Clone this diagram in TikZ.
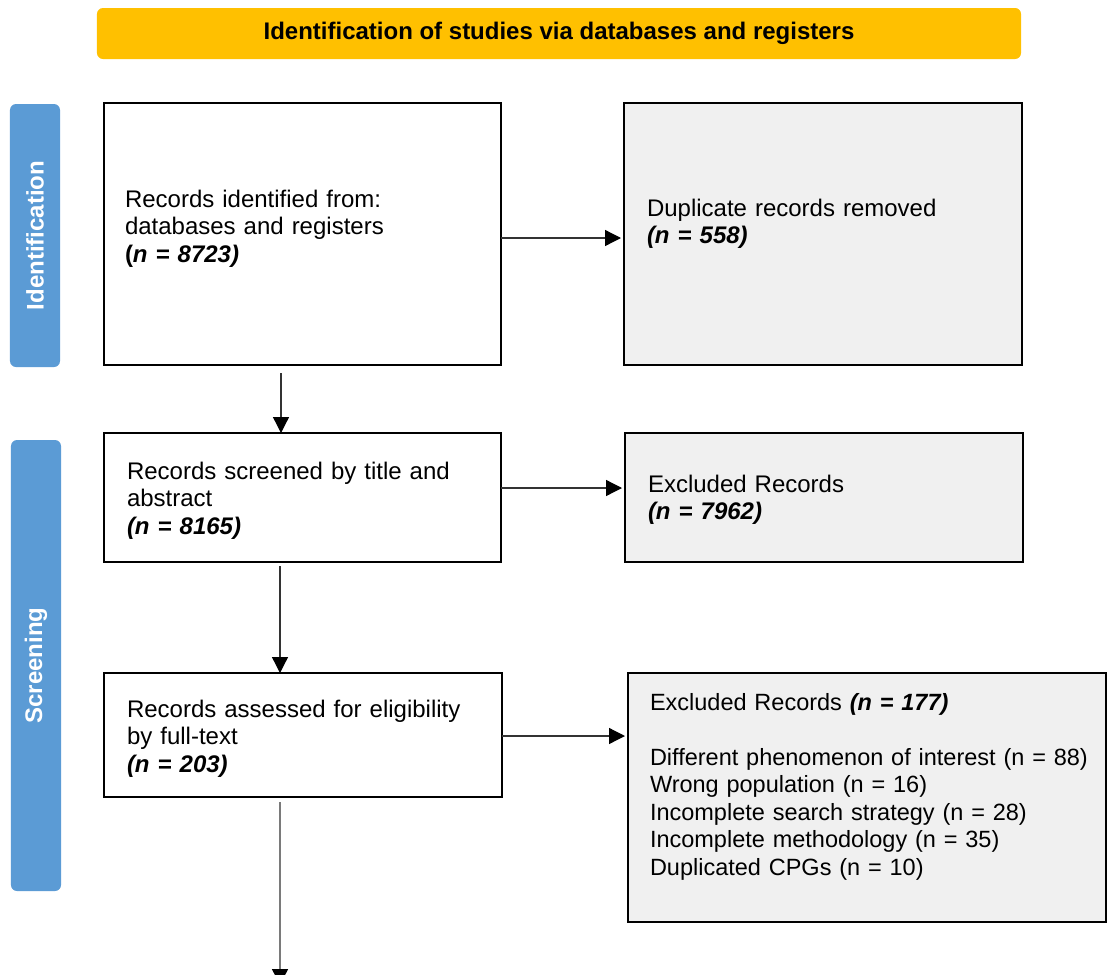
\documentclass[tikz,border=0pt]{standalone}
\usepackage{fontspec}
\setmainfont{Liberation Sans}
\usetikzlibrary{arrows.meta}
\definecolor{bannercol}{HTML}{FFC000}
\definecolor{phasecol}{HTML}{5B9BD5}
\definecolor{greybox}{HTML}{F0F0F0}
\tikzset{
  every node/.style={inner sep=0pt, outer sep=0pt},
  box/.style={draw=black, line width=1.8bp, fill=white, rectangle},
  greyb/.style={box, fill=greybox},
  txt/.style={anchor=base west, align=left, font=\fontsize{24bp}{27.5bp}\selectfont},
  phase/.style={fill=phasecol, rounded corners=6bp, rotate=90, minimum height=50bp,
    text=white, font=\fontsize{24bp}{27.5bp}\selectfont\bfseries},
  arr/.style={draw=black!80, line width=1.3bp,
    -{Triangle[length=16bp,width=16bp,color=black]}},
}
\begin{document}
\begin{tikzpicture}[x=1bp, y=-1bp]
\useasboundingbox (0,0) rectangle (1108,975);

% banner
\node[fill=bannercol, rounded corners=6bp, minimum width=924bp, minimum height=51bp,
  font=\fontsize{24bp}{27.5bp}\selectfont\bfseries] (banner) at (559,33.5)
  {Identification of studies via databases and registers};

% phase bars
\node[phase, minimum width=263bp] (ident) at (35,235.5) {Identification};
\node[phase, minimum width=451bp] (screen) at (36,665.5) {Screening};

% boxes
\node[box, minimum width=397bp, minimum height=262bp] (b1) at (302.5,234) {};
\node[greyb, minimum width=398bp, minimum height=262bp] (dup) at (823,234) {};
\node[box, minimum width=397bp, minimum height=129bp] (b2) at (302.5,497.5) {};
\node[greyb, minimum width=398bp, minimum height=129bp] (ex2) at (824,497.5) {};
\node[box, minimum width=398bp, minimum height=124bp] (b3) at (303,735) {};
\node[greyb, minimum width=478bp, minimum height=249bp] (ex3) at (867,797.5) {};

% texts
\node[txt, text width=360bp] (t1) at (125,207)
  {Records identified from:\\databases and registers\\\textbf{(\textit{n = 8723)}}};
\node[txt, text width=360bp] (tdup) at (647,216)
  {Duplicate records removed\\\textbf{\textit{(n = 558)}}};
\node[txt, text width=360bp] (t2) at (127,479)
  {Records screened by title and\\abstract\\\textbf{\textit{(n = 8165)}}};
\node[txt, text width=360bp] (tex2) at (648,492)
  {Excluded Records\\\textbf{\textit{(n = 7962)}}};
\node[txt, text width=360bp] (t3) at (127,717)
  {Records assessed for eligibility\\by full-text\\\textbf{\textit{(n = 203)}}};
\node[txt, text width=450bp, font=\fontsize{23.5bp}{27.5bp}\selectfont] (tex3) at (650,710)
  {Excluded Records \textbf{\textit{(n = 177)}}\\[27.5bp]
   Different phenomenon of interest (n = 88)\\
   Wrong population (n = 16)\\
   Incomplete search strategy (n = 28)\\
   Incomplete methodology (n = 35)\\
   Duplicated CPGs (n = 10)};

\coordinate (end) at (280,985);

% connectors
\draw[arr, shorten >=3bp] ([yshift=-4bp]b1.east) -- ([yshift=-4bp]b1.east -| dup.west);
\draw[arr, shorten <=8bp] ([xshift=-21.5bp]b1.south) -- ([xshift=-21.5bp]b2.north);
\draw[arr, shorten >=3bp] ([yshift=9.5bp]b2.east) -- ([yshift=9.5bp]b2.east -| ex2.west);
\draw[arr, shorten <=4bp] ([xshift=-22.5bp]b2.south) -- ([xshift=-22.5bp]b2.south |- b3.north);
\draw[arr, shorten >=3bp] ([yshift=-1bp]b3.east) -- ([yshift=-1bp]b3.east -| ex3.west);
\draw[arr, shorten <=5bp] ([xshift=-23bp]b3.south) -- (end);
\end{tikzpicture}
\end{document}
